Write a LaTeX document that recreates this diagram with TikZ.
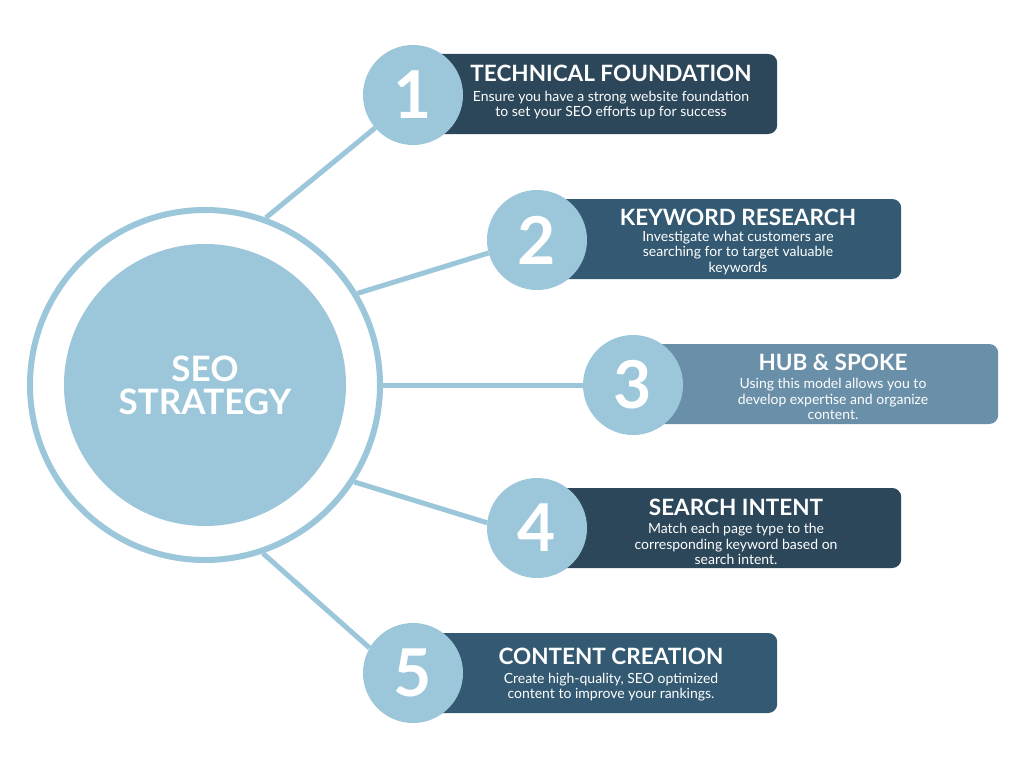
\documentclass[tikz,border=0pt]{standalone}
\usepackage{fontspec}
\setmainfont{Lato}
\usepackage{tikz}
\usetikzlibrary{positioning,calc,backgrounds}

\definecolor{skyblue}{HTML}{9CC7DA}
\definecolor{navy}{HTML}{2C4759}
\definecolor{steel}{HTML}{335A72}
\definecolor{slate}{HTML}{6A8FA9}

\begin{document}
\begin{tikzpicture}[
  x=1pt,y=-1pt,
  ring/.style  ={circle,draw=skyblue,line width=6pt,inner sep=0pt,minimum size=350pt},
  hub/.style   ={circle,fill=skyblue,inner sep=0pt,minimum size=282pt,
                 text=white,align=center,font=\fontsize{35}{35}\selectfont\bfseries},
  num/.style   ={circle,fill=skyblue,inner sep=0pt,minimum size=100pt,
                 text=white,font=\fontsize{66}{66}\selectfont\bfseries},
  card/.style  ={rectangle,rounded corners=9pt,inner sep=0pt,minimum height=80pt,
                 anchor=west},
  ttl/.style   ={text=white,font=\fontsize{22.5}{22.5}\selectfont\bfseries},
  txt/.style   ={text=white,align=center,font=\fontsize{14}{15.5}\selectfont},
  spoke/.style ={draw=skyblue,line width=5pt}
]
\useasboundingbox (0,0) rectangle (1024,768);

% cards
\node[card,fill=navy, minimum width=364pt] (b1) at (413,94) {};
\node[card,fill=steel,minimum width=364pt] (b2) at (537,239) {};
\node[card,fill=slate,minimum width=365pt] (b3) at (633,384) {};
\node[card,fill=navy, minimum width=364pt] (b4) at (537,528) {};
\node[card,fill=steel,minimum width=364pt] (b5) at (413,673) {};

% hub
\node[ring] (ring) at (205,385) {};
\node[hub] (hub) at (205,385) {SEO\\[-2pt]STRATEGY};

% numbers
\node[num] (n1) at (413,95)  {1};
\node[num] (n2) at (537,240) {2};
\node[num] (n3) at (633,385) {3};
\node[num] (n4) at (537,528) {4};
\node[num] (n5) at (413,673) {5};

% spokes
\begin{pgfonlayer}{background}
\fill[white] (0,0) rectangle (1024,768);
\draw[spoke] (ring.70)  -- (n1.221);
\draw[spoke] (ring.31)  -- (n2.195);
\draw[spoke] (ring.0)   -- (n3.180);
\draw[spoke] (ring.-33) -- (n4.174);
\draw[spoke] (ring.-71) -- (n5.150);
\end{pgfonlayer}

% texts
\node[ttl] (t1) at (611,73)  {TECHNICAL FOUNDATION};
\node[txt] (d1) at (611,105) {Ensure you have a strong website foundation\\to set your SEO efforts up for success};
\node[ttl] (t2) at (738,217) {KEYWORD RESEARCH};
\node[txt] (d2) at (738,253) {Investigate what customers are\\searching for to target valuable\\keywords};
\node[ttl] (t3) at (833,362) {HUB \& SPOKE};
\node[txt] (d3) at (833,399) {Using this model allows you to\\develop expertise and organize\\content.};
\node[ttl] (t4) at (736,507) {SEARCH INTENT};
\node[txt] (d4) at (736,544) {Match each page type to the\\corresponding keyword based on\\search intent.};
\node[ttl] (t5) at (611,656) {CONTENT CREATION};
\node[txt] (d5) at (611,687) {Create high-quality, SEO optimized\\content to improve your rankings.};
\end{tikzpicture}
\end{document}
